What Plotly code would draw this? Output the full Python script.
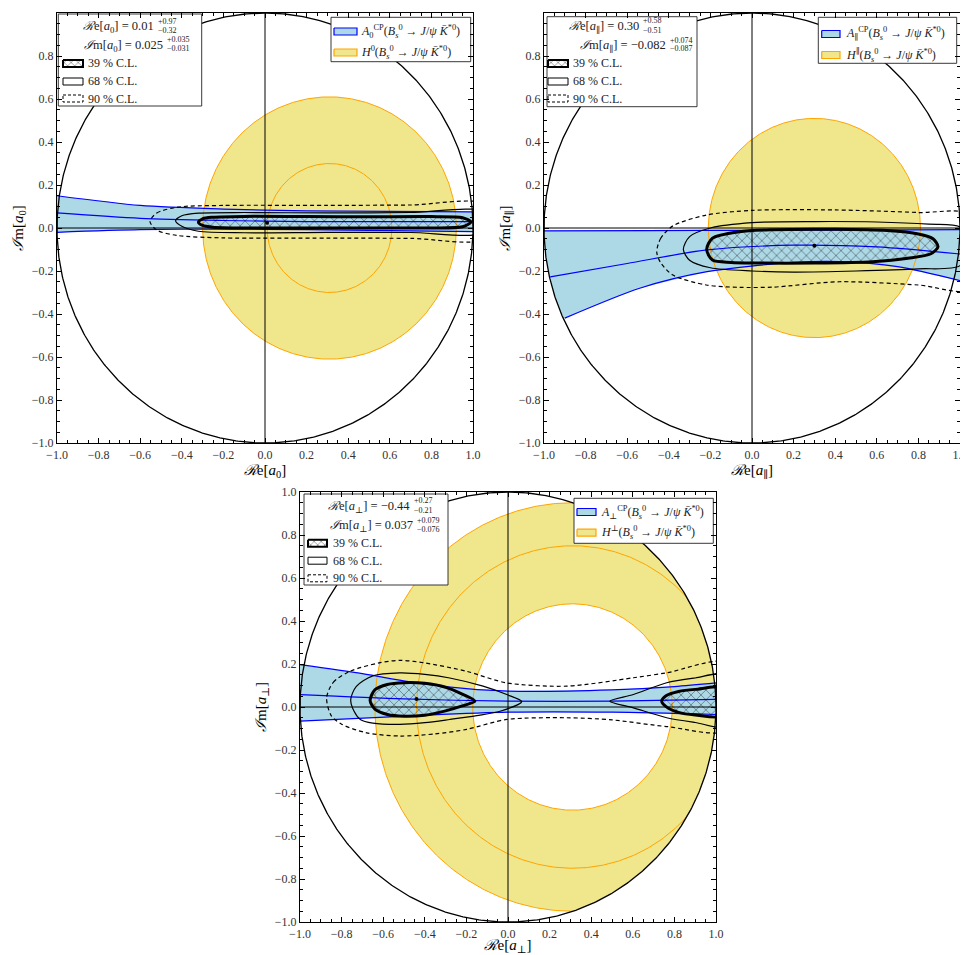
import numpy as np
import plotly.graph_objects as go

# ---------------- values ----------------
tick_vals = [-1.0, -0.8, -0.6, -0.4, -0.2, 0.0, 0.2, 0.4, 0.6, 0.8, 1.0]
tick_text = [f"{v:.1f}".replace("-", "\u2212") for v in tick_vals]

# ---- panel a0 ----
a0_H_center = 0.31
a0_H_fill = [0.61, 0.0]           # outer, inner radius of the filled region
a0_H_lines = [0.61, 0.30]         # orange outlines
a0_up_x = [-1.0, -0.6, -0.2, 0.2, 0.6, 1.0]
a0_up_y = [0.15, 0.105, 0.088, 0.080, 0.077, 0.075]
a0_mid_x = [-1.0, -0.6, -0.2, 0.2, 0.6, 1.0]
a0_mid_y = [0.07, 0.045, 0.035, 0.030, 0.030, 0.030]
a0_lo_x = [-1.0, -0.6, -0.2, 0.2, 0.6, 1.0]
a0_lo_y = [-0.02, -0.008, -0.005, -0.008, -0.012, -0.017]
a0_c39_x = [-0.32, -0.30, -0.25, -0.10, 0.20, 0.50, 0.80, 0.95, 0.99, 0.95, 0.80, 0.50, 0.20, -0.10, -0.25, -0.30, -0.32]
a0_c39_y = [0.027, 0.043, 0.050, 0.054, 0.053, 0.052, 0.053, 0.048, 0.028, 0.006, 0.000, 0.000, 0.000, 0.000, 0.004, 0.012, 0.027]
a0_c68_x = [-0.43, -0.40, -0.32, -0.10, 0.30, 0.70, 1.05, 1.05, 0.70, 0.30, -0.10, -0.32, -0.40, -0.43]
a0_c68_y = [0.034, 0.057, 0.069, 0.072, 0.070, 0.072, 0.075, -0.020, -0.021, -0.020, -0.022, -0.015, 0.008, 0.034]
a0_c90_x = [-0.553, -0.52, -0.42, -0.20, 0.30, 0.70, 1.05, 1.05, 0.70, 0.30, -0.20, -0.42, -0.52, -0.553]
a0_c90_y = [0.030, 0.070, 0.097, 0.105, 0.105, 0.107, 0.110, -0.050, -0.048, -0.047, -0.046, -0.035, -0.010, 0.030]
a0_best = [0.01, 0.025]

# ---- panel a_par ----
a1_H_center = 0.30
a1_H_fill = [0.51, 0.0]
a1_H_lines = [0.51]
a1_up_x = [-1.0, -0.5, 0.0, 0.5, 1.0]
a1_up_y = [-0.013, -0.012, -0.011, -0.010, -0.008]
a1_mid_x = [-0.97, -0.60, -0.216, 0.20, 0.60, 1.0]
a1_mid_y = [-0.227, -0.165, -0.102, -0.080, -0.088, -0.121]
a1_lo_x = [-0.90, -0.54, -0.216, 0.20, 0.42, 0.70, 1.0]
a1_lo_y = [-0.419, -0.28, -0.203, -0.160, -0.156, -0.18, -0.245]
a1_c39_x = [-0.218, -0.19, -0.06, 0.10, 0.40, 0.65, 0.80, 0.87, 0.894, 0.86, 0.75, 0.58, 0.30, 0.00, -0.10, -0.19, -0.218]
a1_c39_y = [-0.100, -0.047, -0.017, -0.008, -0.006, -0.012, -0.028, -0.050, -0.087, -0.120, -0.141, -0.157, -0.163, -0.163, -0.160, -0.149, -0.100]
a1_c68_x = [-0.33, -0.30, -0.20, 0.00, 0.30, 0.60, 0.85, 1.00, 1.03, 1.00, 0.80, 0.50, 0.20, 0.00, -0.20, -0.30, -0.33]
a1_c68_y = [-0.100, -0.040, 0.000, 0.025, 0.030, 0.028, 0.018, 0.005, -0.080, -0.175, -0.190, -0.200, -0.205, -0.200, -0.185, -0.150, -0.100]
a1_c90_x = [-0.458, -0.44, -0.38, -0.22, 0.00, 0.40, 0.80, 1.05, 1.05, 0.80, 0.42, 0.10, -0.06, -0.22, -0.38, -0.44, -0.458]
a1_c90_y = [-0.112, -0.050, 0.010, 0.060, 0.082, 0.084, 0.072, 0.060, -0.285, -0.265, -0.250, -0.275, -0.276, -0.265, -0.219, -0.160, -0.112]
a1_best = [0.30, -0.082]

# ---- panel a_perp ----
a2_H_center = 0.31
a2_H_fill = [0.95, 0.48]
a2_H_lines = [0.95, 0.75, 0.48]
a2_up_x = [-1.0, -0.70, -0.44, -0.20, 0.0, 0.5, 0.8, 1.0]
a2_up_y = [0.197, 0.155, 0.112, 0.085, 0.074, 0.080, 0.095, 0.112]
a2_mid_x = [-1.0, -0.5, 0.0, 0.5, 1.0]
a2_mid_y = [0.058, 0.038, 0.027, 0.027, 0.035]
a2_lo_x = [-1.0, -0.44, 0.0, 0.5, 1.0]
a2_lo_y = [-0.066, -0.040, -0.024, -0.024, -0.035]
a2_c39a_x = [-0.663, -0.64, -0.58, -0.50, -0.40, -0.30, -0.22, -0.159, -0.22, -0.30, -0.40, -0.50, -0.58, -0.64, -0.663]
a2_c39a_y = [0.030, 0.080, 0.105, 0.113, 0.110, 0.092, 0.060, 0.027, 0.005, -0.018, -0.038, -0.043, -0.035, -0.010, 0.030]
a2_c39b_x = [0.739, 0.76, 0.82, 0.90, 1.05, 1.05, 0.90, 0.82, 0.76, 0.739]
a2_c39b_y = [0.027, 0.052, 0.072, 0.082, 0.088, -0.040, -0.037, -0.025, 0.002, 0.027]
a2_c68a_x = [-0.756, -0.73, -0.65, -0.52, -0.40, -0.28, -0.12, -0.006, 0.066, -0.038, -0.15, -0.28, -0.40, -0.52, -0.65, -0.71, -0.74, -0.756]
a2_c68a_y = [0.035, 0.095, 0.145, 0.159, 0.152, 0.135, 0.097, 0.058, 0.025, -0.020, -0.040, -0.058, -0.073, -0.081, -0.075, -0.058, -0.020, 0.035]
a2_c68b_x = [0.49, 0.603, 0.763, 0.90, 1.05, 1.05, 0.90, 0.763, 0.603, 0.49]
a2_c68b_y = [0.027, 0.058, 0.113, 0.135, 0.150, -0.090, -0.072, -0.050, -0.004, 0.027]
a2_c90_x = [-0.872, -0.84, -0.76, -0.62, -0.519, -0.40, -0.199, -0.006, 0.282, 0.603, 0.763, 1.05, 1.05, 0.763, 0.50, 0.282, -0.006, -0.199, -0.35, -0.519, -0.68, -0.80, -0.85, -0.872]
a2_c90_y = [0.043, 0.115, 0.166, 0.205, 0.217, 0.205, 0.166, 0.112, 0.097, 0.136, 0.159, 0.205, -0.108, -0.091, -0.060, -0.050, -0.058, -0.104, -0.125, -0.135, -0.120, -0.080, -0.040, 0.043]
a2_best = [-0.44, 0.037]

# fit summaries (text)
a0_re = ["0.01", "+0.97", "\u22120.32"]
a0_im = ["0.025", "+0.035", "\u22120.031"]
a1_re = ["0.30", "+0.58", "\u22120.51"]
a1_im = ["\u22120.082", "+0.074", "\u22120.087"]
a2_re = ["\u22120.44", "+0.27", "\u22120.21"]
a2_im = ["0.037", "+0.079", "\u22120.076"]
cl_labels = ["39 % C.L.", "68 % C.L.", "90 % C.L."]

# ---------------- styling ----------------
OFF = 8                      # page body margin
W, H = 960, 947
PW, PH = 416, 430
SERIF = "Liberation Serif, DejaVu Serif, serif"
KHAKI = "#F0E68C"
ORANGE = "#FFA500"
LBLUE = "#ADD8E6"
BLUE = "#0000FF"

fig = go.Figure()
TH = np.linspace(0, 2 * np.pi, 721)


def tr(**kw):
    kw.setdefault("hoverinfo", "skip")
    kw.setdefault("showlegend", False)
    fig.add_trace(go.Scatter(**kw))


def p2d(dx, dy):
    return -1 + 2 * dx / PW, 1 - 2 * dy / PH


def ray_to_unit(cx, th):
    # distance from (cx,0) along direction th to the unit circle
    cu = cx * np.cos(th)
    return -cu + np.sqrt(cu ** 2 - cx ** 2 + 1)


def build_panel(xa, ya, sub, Hc, Hfill, Hlines, up, mid, lo, c39s, c68s, c90s, best,
                re_txt, im_txt, boxes, arc=False):
    ax = dict(xaxis=xa, yaxis=ya)
    # H region, kept inside the unit disk
    ro, ri = Hfill
    reff = np.minimum(ro, ray_to_unit(Hc, TH))
    xs = list(Hc + reff * np.cos(TH)); ys = list(reff * np.sin(TH))
    if ri > 0:
        xs += list(Hc + ri * np.cos(TH[::-1])); ys += list(ri * np.sin(TH[::-1]))
    tr(x=xs, y=ys, mode="lines", fill="toself", fillcolor=KHAKI, line=dict(width=0), **ax)
    # band fill
    bx = list(up[0]) + list(lo[0][::-1])
    by = list(up[1]) + list(lo[1][::-1])
    if arc:
        t0 = np.arctan2(lo[1][0], lo[0][0]); t1 = np.arctan2(up[1][0], up[0][0])
        if t1 > t0:
            t1 -= 2 * np.pi
        tt = np.linspace(t0, t1, 20)
        bx += list(np.cos(tt)); by += list(np.sin(tt))
    tr(x=bx, y=by, mode="lines", fill="toself", fillcolor=LBLUE, line=dict(width=0), **ax)
    # orange outlines (only inside the unit disk)
    for r in Hlines:
        ox = Hc + r * np.cos(TH); oy = r * np.sin(TH)
        inside = ox ** 2 + oy ** 2 <= 1.0
        ox = np.where(inside, ox, np.nan); oy = np.where(inside, oy, np.nan)
        tr(x=ox, y=oy, mode="lines", connectgaps=False, line=dict(color=ORANGE, width=1), **ax)
    # blue lines
    for c in (up, mid, lo):
        tr(x=c[0], y=c[1], mode="lines", line=dict(color=BLUE, width=1.2, shape="spline", smoothing=0.8), **ax)
    # hatch
    for c in c39s:
        tr(x=c[0], y=c[1], mode="lines", fill="toself", fillcolor="rgba(0,0,0,0)",
           fillpattern=dict(shape="x", fgcolor="black", bgcolor="rgba(0,0,0,0)", size=7, solidity=0.2, fillmode="overlay"),
           line=dict(width=0, shape="spline", smoothing=0.8), **ax)
    for c in c90s:
        tr(x=c[0], y=c[1], mode="lines", line=dict(color="black", width=1.2, dash="4px,3px", shape="spline", smoothing=0.8), **ax)
    for c in c68s:
        tr(x=c[0], y=c[1], mode="lines", line=dict(color="black", width=1.2, shape="spline", smoothing=0.8), **ax)
    for c in c39s:
        tr(x=c[0], y=c[1], mode="lines", line=dict(color="black", width=3, shape="spline", smoothing=0.8), **ax)
    # unit circle
    tr(x=np.cos(TH), y=np.sin(TH), mode="lines", line=dict(color="black", width=1.3), **ax)
    tr(x=[best[0]], y=[best[1]], mode="markers", marker=dict(color="black", size=4), **ax)

    # ---- legend boxes ----
    lb, rb = boxes
    def rect(x0, x1, y0, y1, **kw):
        a, b = p2d(x0, y0); c, d = p2d(x1, y1)
        tr(x=[a, c, c, a, a], y=[b, b, d, d, b], mode="lines", **kw, **ax)
    rect(*lb["box"], fill="toself", fillcolor="white", line=dict(color="#222", width=0.9))
    rect(*rb["box"], fill="toself", fillcolor="white", line=dict(color="#222", width=0.9))
    sx0, sx1 = lb["sym_x"]
    cy = lb["cl_y"]
    rect(sx0, sx1, cy[0] - 3.5, cy[0] + 3.5, fill="toself", fillcolor="rgba(0,0,0,0)",
         fillpattern=dict(shape="x", fgcolor="black", bgcolor="white", size=5, solidity=0.25, fillmode="overlay"),
         line=dict(color="black", width=2))
    rect(sx0, sx1, cy[1] - 3.5, cy[1] + 3.5, line=dict(color="black", width=1))
    rect(sx0, sx1, cy[2] - 3.5, cy[2] + 3.5, line=dict(color="black", width=1, dash="3px,2px"))
    rx0, rx1 = rb["sym_x"]
    ry = rb["y"]
    rect(rx0, rx1, ry[0] - 3.5, ry[0] + 3.5, fill="toself", fillcolor=LBLUE, line=dict(color=BLUE, width=1.2))
    rect(rx0, rx1, ry[1] - 3.5, ry[1] + 3.5, fill="toself", fillcolor=KHAKI, line=dict(color=ORANGE, width=1.2))

    xr, yr = f"{xa} domain", f"{ya} domain"
    def ann(dx, dy, text, size=12, xanchor="left"):
        fig.add_annotation(x=dx / PW, y=1 - dy / PH, xref=xr, yref=yr, text=text, showarrow=False,
                           xanchor=xanchor, yanchor="middle", borderpad=0,
                           font=dict(family=SERIF, size=size, color="#222"))
    asub = f"<i>a</i><sub>{sub}</sub>"
    ann(lb["re"][0] - 1, lb["re"][1], f"<i>\u211b</i>e[{asub}] = {re_txt[0]}", 12.5, "right")
    ann(lb["im"][0] - 1, lb["im"][1], f"<i>\u2110</i>m[{asub}] = {im_txt[0]}", 12.5, "right")
    ann(lb["re"][0] + 1, lb["re"][2] - 1, re_txt[1], 8)
    ann(lb["re"][0] + 1, lb["re"][3] + 0.5, re_txt[2], 8)
    ann(lb["im"][0] + 1, lb["im"][2] - 1, im_txt[1], 8)
    ann(lb["im"][0] + 1, lb["im"][3] + 0.5, im_txt[2], 8)
    for k in range(3):
        ann(lb["cl_x"], cy[k], cl_labels[k], 12)
    proc = "(<i>B</i><sub><i>s</i></sub><sup>0</sup> \u2192 <i>J</i>/<i>\u03c8</i> <i>K\u0304</i><sup>*0</sup>)"
    ann(rb["tx"], ry[0], f"<i>A</i><sub>{sub}</sub><sup>CP</sup>{proc}", 12)
    ann(rb["tx"], ry[1], f"<i>H</i><sup>{sub}</sup>{proc}", 12)


S0, SPAR, SPERP = "0", "\u2225", "\u22a5"

build_panel("x", "y", S0, a0_H_center, a0_H_fill, a0_H_lines,
            (a0_up_x, a0_up_y), (a0_mid_x, a0_mid_y), (a0_lo_x, a0_lo_y),
            [(a0_c39_x, a0_c39_y)], [(a0_c68_x, a0_c68_y)], [(a0_c90_x, a0_c90_y)], a0_best,
            a0_re, a0_im,
            (dict(box=(1.3, 144.7, 1, 93), re=(99, 14, 9.5, 17.5), im=(108, 33, 27.5, 35.5),
                  sym_x=(6, 26), cl_x=30, cl_y=(50.5, 68.5, 85.5)),
             dict(box=(274, 413.7, 4.3, 48.7), sym_x=(277, 300), y=(18.5, 39.5), tx=303)))

build_panel("x2", "y2", SPAR, a1_H_center, a1_H_fill, a1_H_lines,
            (a1_up_x, a1_up_y), (a1_mid_x, a1_mid_y), (a1_lo_x, a1_lo_y),
            [(a1_c39_x, a1_c39_y)], [(a1_c68_x, a1_c68_y)], [(a1_c90_x, a1_c90_y)], a1_best,
            a1_re, a1_im,
            (dict(box=(3, 153, 3.7, 93.7), re=(97, 14, 8.5, 17), im=(124, 33, 28.7, 35),
                  sym_x=(4, 24), cl_x=28, cl_y=(50.5, 68.5, 85.5)),
             dict(box=(274.3, 412.7, 4.3, 50.3), sym_x=(277.7, 296), y=(21, 42), tx=301)),
            arc=True)

build_panel("x3", "y3", SPERP, a2_H_center, a2_H_fill, a2_H_lines,
            (a2_up_x, a2_up_y), (a2_mid_x, a2_mid_y), (a2_lo_x, a2_lo_y),
            [(a2_c39a_x, a2_c39a_y), (a2_c39b_x, a2_c39b_y)],
            [(a2_c68a_x, a2_c68a_y), (a2_c68b_x, a2_c68b_y)], [(a2_c90_x, a2_c90_y)], a2_best,
            a2_re, a2_im,
            (dict(box=(4, 148, 2, 93), re=(111.7, 14.7, 9.7, 18), im=(115, 34, 29.7, 37.3),
                  sym_x=(8, 27), cl_x=32, cl_y=(51.3, 68.7, 86.3)),
             dict(box=(274, 413.3, 6.3, 51.3), sym_x=(277, 296), y=(20, 40.7), tx=300)))

# reference lines x=0, y=0
for xa, ya in (("x", "y"), ("x2", "y2"), ("x3", "y3")):
    fig.add_shape(type="line", xref=xa, yref=f"{ya} domain", x0=0, x1=0, y0=0, y1=1,
                  line=dict(color="black", width=1), layer="above")
    fig.add_shape(type="line", xref=f"{xa} domain", yref=ya, x0=0, x1=1, y0=0, y1=0,
                  line=dict(color="black", width=1), layer="above")


def axis(domain, anchor, title, standoff):
    return dict(domain=domain, anchor=anchor, range=[-1, 1], autorange=False,
                tickmode="array", tickvals=tick_vals, ticktext=tick_text,
                ticks="inside", ticklen=5, tickwidth=1, tickcolor="black",
                minor=dict(ticks="inside", ticklen=2.5, tickwidth=0.8, tickcolor="black",
                           dtick=0.05, tick0=0, showgrid=False),
                showline=True, linecolor="black", linewidth=1.2, mirror="ticks",
                showgrid=False, zeroline=False, automargin=False,
                tickfont=dict(family=SERIF, size=12, color="#333"),
                title=dict(text=title, font=dict(family=SERIF, size=15, color="black"), standoff=standoff),
                fixedrange=True)


def dom(left, top):
    l, t = left - OFF, top - OFF
    return [l / W, (l + PW) / W], [1 - (t + PH) / H, 1 - t / H]


xd1, yd1 = dom(57, 13)
xd2, yd2 = dom(544, 13)
xd3, yd3 = dom(300, 492)


def ttl(kind, s):
    return (f"<i>\u211b</i>e[<i>a</i><sub>{s}</sub>]" if kind == "re"
            else f"<i>\u2110</i>m[<i>a</i><sub>{s}</sub>]")


fig.update_layout(
    width=W, height=H, margin=dict(l=0, r=0, t=0, b=0),
    paper_bgcolor="white", plot_bgcolor="white", showlegend=False,
    xaxis=axis(xd1, "y", ttl("re", "0"), 2), yaxis=axis(yd1, "x", ttl("im", "0"), 4),
    xaxis2=axis(xd2, "y2", ttl("re", SPAR), 2), yaxis2=axis(yd2, "x2", ttl("im", SPAR), 4),
    xaxis3=axis(xd3, "y3", ttl("re", SPERP), 3), yaxis3=axis(yd3, "x3", ttl("im", SPERP), 4),
)

fig.write_html("out.html")
